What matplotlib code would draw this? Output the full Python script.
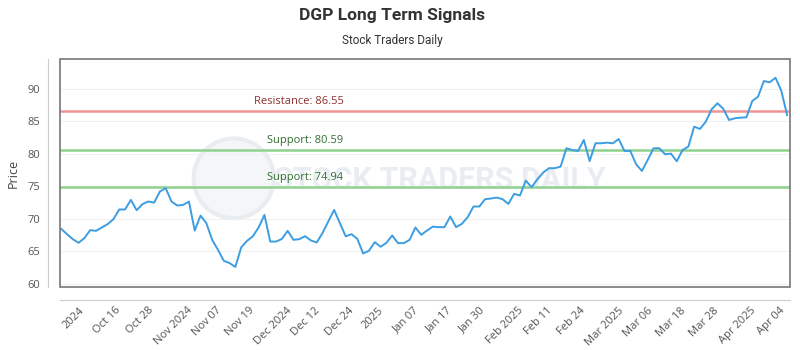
import matplotlib
matplotlib.use("Agg")
import matplotlib.patches as mpatches
import matplotlib.pyplot as plt
import numpy as np

# daily closes
prices = [
    68.46, 67.64, 66.87, 66.31, 67.03, 68.26, 68.15, 68.67, 69.18, 69.95,
    71.44, 71.44, 72.92, 71.33, 72.26, 72.67, 72.50, 74.20, 74.72, 72.67,
    72.05, 72.15, 72.67, 68.20, 70.50, 69.33, 66.77, 65.23, 63.54, 63.18,
    62.60, 65.60, 66.60, 67.30, 68.67, 70.60, 66.50, 66.50, 66.90, 68.15,
    66.77, 66.87, 67.33, 66.67, 66.36, 67.80, 69.60, 71.38, 69.33, 67.30,
    67.64, 66.90, 64.67, 65.08, 66.41, 65.70, 66.30, 67.44, 66.26, 66.26,
    66.77, 68.67, 67.54, 68.20, 68.80, 68.72, 68.72, 70.36, 68.72, 69.23,
    70.26, 71.90, 71.90, 73.03, 73.13, 73.28, 73.03, 72.30, 73.85, 73.59,
    75.90, 74.87, 76.10, 77.13, 77.80, 77.80, 78.05, 80.87, 80.60, 80.46,
    82.15, 78.90, 81.64, 81.64, 81.74, 81.64, 82.30, 80.46, 80.46, 78.41,
    77.38, 79.08, 80.87, 80.87, 79.95, 80.05, 78.87, 80.60, 81.13, 84.20,
    83.85, 84.97, 86.87, 87.80, 86.97, 85.23, 85.49, 85.59, 85.64, 88.15,
    88.82, 91.23, 91.03, 91.74, 89.74, 86.00,
]

tick_labels = [
    "2024", "Oct 16", "Oct 28", "Nov 2024", "Nov 07", "Nov 19", "Dec 2024",
    "Dec 12", "Dec 24", "2025", "Jan 07", "Jan 17", "Jan 30", "Feb 2025",
    "Feb 11", "Feb 24", "Mar 2025", "Mar 06", "Mar 18", "Mar 28",
    "Apr 2025", "Apr 04",
]

resistance = 86.55
supports = [80.59, 74.94]

plt.rcParams["font.family"] = ["Open Sans", "DejaVu Sans"]
NARROW = ["Liberation Sans Narrow", "Roboto", "DejaVu Sans"]

fig = plt.figure(figsize=(8, 3.5), dpi=100)
ax = fig.add_axes([0.075, 0.18, 0.9125, 0.651])

# watermark
ax.add_patch(mpatches.Ellipse((0.238, 0.477), 0.11, 0.35, transform=ax.transAxes,
                              facecolor="#f5f6f8", edgecolor="#e9edf1", lw=3, zorder=0))
ax.text(0.52, 0.47, "STOCK TRADERS DAILY", transform=ax.transAxes, ha="center",
        va="center", fontsize=22, fontweight="bold", color="#e9edf2",
        family=NARROW, zorder=0)

x = np.arange(len(prices))
ax.plot(x, prices, color="#3d9de2", lw=1.4, zorder=3)

ax.axhline(resistance, color="#f09595", lw=1.8, zorder=2)
ax.text(41, resistance + 1.5, f"Resistance: {resistance:.2f}", ha="center",
        va="center", color="#8e2f2f", fontsize=8)
for s in supports:
    ax.axhline(s, color="#8fd18f", lw=1.8, zorder=2)
    ax.text(42, s + 1.5, f"Support: {s:.2f}", ha="center", va="center",
            color="#2f6f2f", fontsize=8)

ax.set_xlim(-0.2, len(prices) - 0.5)
ax.set_ylim(59.5, 94.6)
ax.set_yticks(range(60, 95, 5))
ax.grid(axis="y", color="#f0f0f0", lw=0.8)
ax.set_axisbelow(True)

ax.set_xticks(np.linspace(2.2, 122.2, len(tick_labels)))
ax.set_xticklabels(tick_labels)
ax.tick_params(length=0, labelsize=8, labelcolor="#555555")
ax.tick_params(axis="x", pad=4, labelrotation=45)
ax.tick_params(axis="y", pad=5)
plt.setp(ax.get_xticklabels(), ha="right", va="center", rotation_mode="anchor")

for side in ("top", "right"):
    ax.spines[side].set_visible(False)
for side in ("left", "bottom"):
    ax.spines[side].set_position(("outward", 9))
    ax.spines[side].set_color("#cccccc")
ax.add_patch(mpatches.Rectangle((0, 0), 1, 1, transform=ax.transAxes, fill=False,
                                edgecolor="#777777", lw=1.2, clip_on=False, zorder=4))

ax.set_ylabel("Price", fontsize=9, color="#444444", labelpad=6)

fig.text(0.49, 0.955, "DGP Long Term Signals", ha="center", va="center",
         fontsize=12.5, fontweight="bold", color="#333333", family=NARROW)
fig.text(0.49, 0.885, "Stock Traders Daily", ha="center", va="center",
         fontsize=8.5, color="#333333", family=NARROW)

fig.savefig("out.png", dpi=100)
